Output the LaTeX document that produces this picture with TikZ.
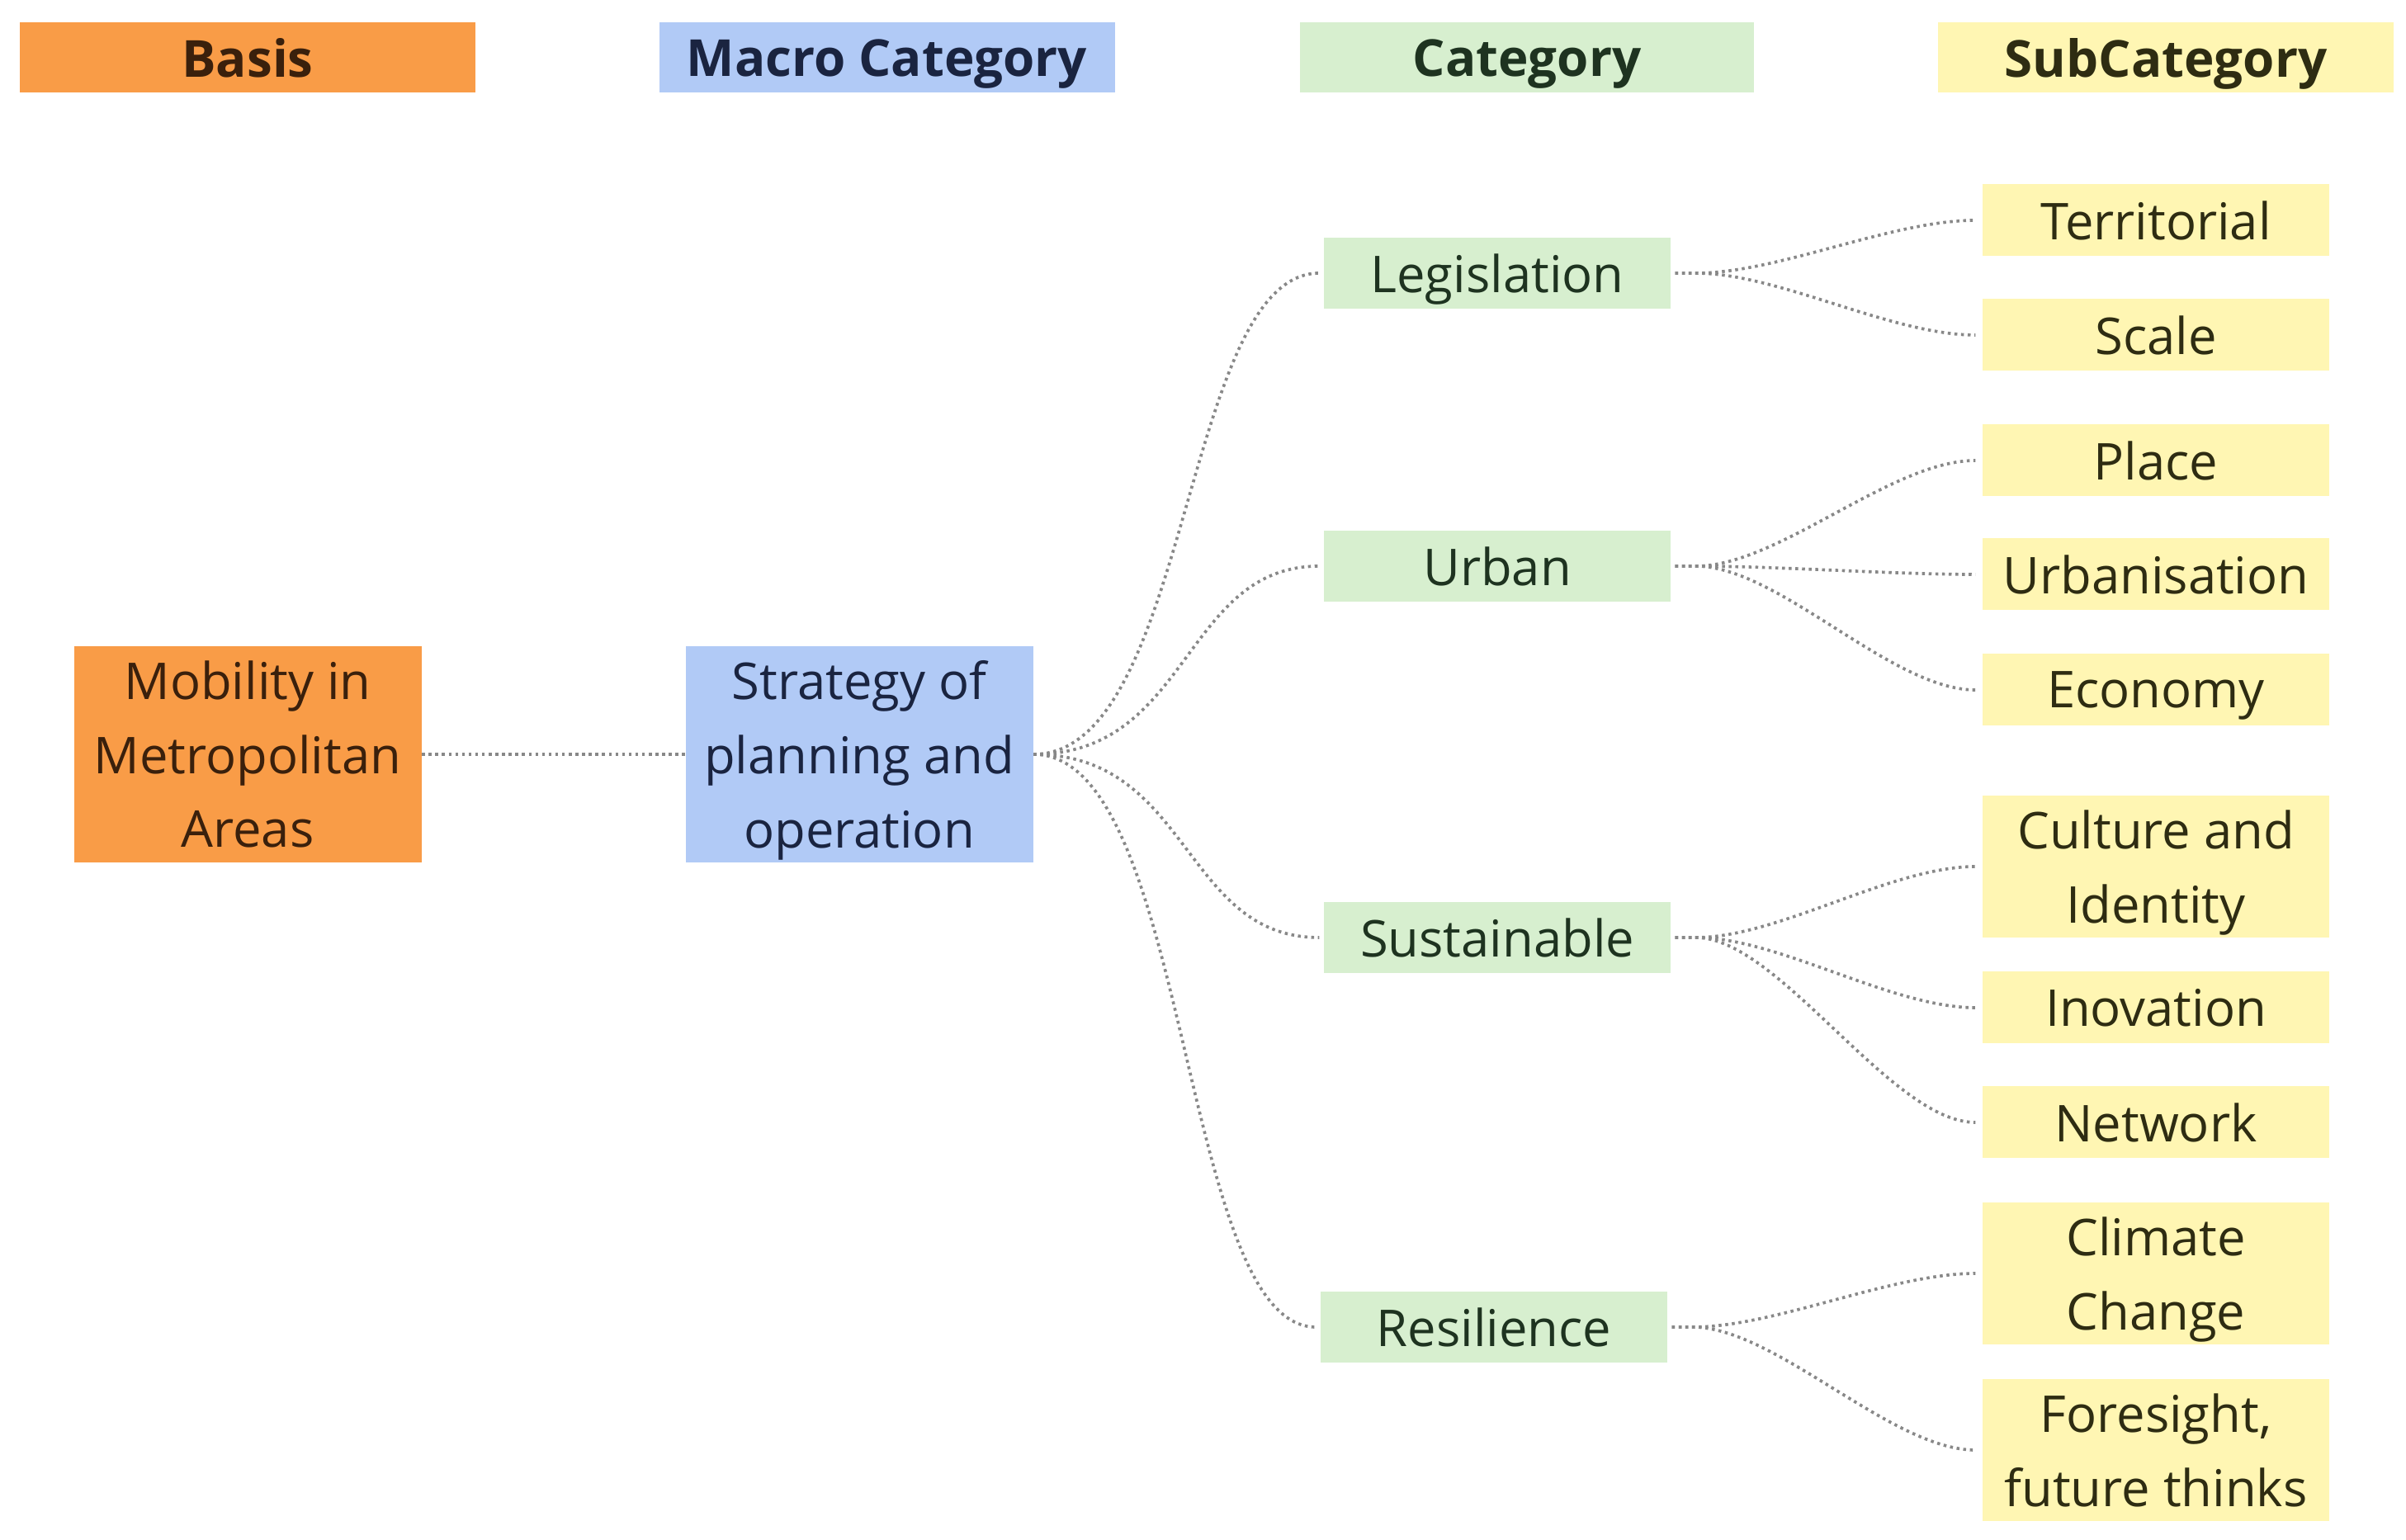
\documentclass[tikz,border=0pt]{standalone}
\usepackage{fontspec}
\setmainfont{Open Sans}
\definecolor{orangefill}{HTML}{F99C47}
\definecolor{bluefill}{HTML}{B1CAF6}
\definecolor{greenfill}{HTML}{D7EFCF}
\definecolor{yellowfill}{HTML}{FFF6B3}
\definecolor{orangetext}{HTML}{3A200C}
\definecolor{bluetext}{HTML}{1A2440}
\definecolor{greentext}{HTML}{1E3320}
\definecolor{yellowtext}{HTML}{2E2C12}
\definecolor{linkgray}{HTML}{888888}
\tikzset{
  box/.style={inner sep=0pt, align=center, text depth=0pt, font=\fontsize{17.5}{25.5}\selectfont},
  headfont/.style={font=\fontsize{17.6}{20}\selectfont\bfseries, minimum width=5.52cm, minimum height=0.85cm},
  basisbox/.style={box, fill=orangefill, text=orangetext},
  macrobox/.style={box, fill=bluefill, text=bluetext},
  catbox/.style={box, fill=greenfill, text=greentext, minimum width=4.2cm, minimum height=0.86cm},
  subbox/.style={box, fill=yellowfill, text=yellowtext, minimum width=4.2cm, minimum height=0.87cm},
  subbox2/.style={subbox, minimum height=1.72cm},
  bigbox/.style={minimum width=4.21cm, minimum height=2.62cm},
  link/.style={draw=linkgray, line width=1.05pt, dash pattern=on 1.0pt off 1.3pt},
}
\begin{document}
\begin{tikzpicture}[x=1cm,y=1cm]
\useasboundingbox (0,0) rectangle (29.15,-18.66);
% headers
\node[basisbox, headfont] (hbasis) at (3.00,-0.70) {Basis};
\node[macrobox, headfont] (hmacro) at (10.745,-0.70) {Macro Category};
\node[catbox, headfont, minimum width=5.50cm] (hcat) at (18.50,-0.70) {Category};
\node[subbox, headfont, minimum height=0.85cm] (hsub) at (26.24,-0.70) {SubCategory};
% main boxes
\node[basisbox, bigbox] (mob) at (3.00,-9.14) {Mobility in\\Metropolitan\\Areas};
\node[macrobox, bigbox] (str) at (10.41,-9.14) {Strategy of\\planning and\\operation};
% categories
\node[catbox] (leg) at (18.14,-3.31) {Legislation};
\node[catbox] (urb) at (18.14,-6.86) {Urban};
\node[catbox] (sus) at (18.14,-11.36) {Sustainable};
\node[catbox] (res) at (18.10,-16.08) {Resilience};
% subcategories
\node[subbox] (ter) at (26.12,-2.67) {Territorial};
\node[subbox] (sca) at (26.12,-4.06) {Scale};
\node[subbox] (pla) at (26.12,-5.58) {Place};
\node[subbox] (urbn) at (26.12,-6.96) {Urbanisation};
\node[subbox] (eco) at (26.12,-8.36) {Economy};
\node[subbox2] (cul) at (26.12,-10.50) {Culture and\\Identity};
\node[subbox] (ino) at (26.12,-12.21) {Inovation};
\node[subbox] (net) at (26.12,-13.60) {Network};
\node[subbox2] (cli) at (26.12,-15.43) {Climate\\Change};
\node[subbox2] (for) at (26.12,-17.57) {Foresight,\\future thinks};
% links
\draw[link] (mob.east) -- (str.west);
\foreach \c in {leg,urb,sus,res}{
  \draw[link] (str.east) .. controls +(1.9,0) and ([xshift=-1.7cm]\c.west) .. ([xshift=-0.05cm]\c.west);
}
\foreach \c/\s in {leg/ter,leg/sca,urb/pla,urb/urbn,urb/eco,sus/cul,sus/ino,sus/net,res/cli,res/for}{
  \draw[link] ([xshift=0.05cm]\c.east) -- ++(0.25,0) .. controls +(1.0,0) and ([xshift=-1.1cm]\s.west) .. ([xshift=-0.08cm]\s.west);
}
\end{tikzpicture}
\end{document}
